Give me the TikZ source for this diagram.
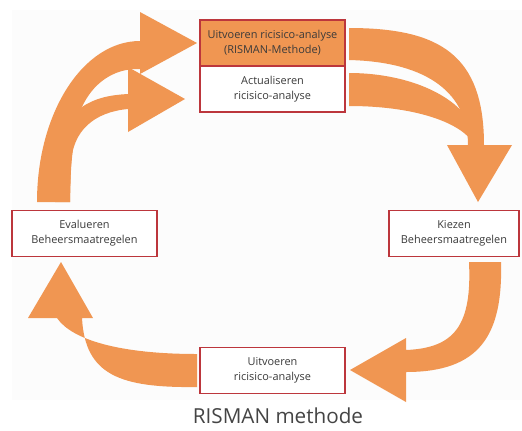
\documentclass[tikz,border=0pt]{standalone}
\usepackage{fontspec}
\setmainfont{Open Sans}
\definecolor{arrowfill}{HTML}{F09652}
\definecolor{boxline}{HTML}{BC363C}
\definecolor{panel}{HTML}{FCFCFC}
\definecolor{txt}{HTML}{3A3A3A}
\definecolor{captxt}{HTML}{444444}
\begin{document}
\begin{tikzpicture}[x=0.75pt,y=-0.75pt,
  blockarrow/.style={fill=arrowfill},
  stepbox/.style={draw=boxline, line width=1.2pt, fill=white,
    minimum width=108.75pt, minimum height=34.5pt, inner sep=0pt,
    align=center, text=txt, font=\fontsize{8.2}{11.25}\selectfont},
  captionstyle/.style={text=captxt, font=\fontsize{15.5}{18}\selectfont}]
\useasboundingbox (0,0) rectangle (522,430);
% light panel behind the cycle
\fill[panel] (12,10) rectangle (522,400);

% forked arrow: evaluation back to the analysis steps
\fill[blockarrow] (37,202) .. controls (37,113) and (83,41) .. (140,41)
  -- (140,12) -- (197,43) -- (140,74) -- (140,69)
  .. controls (112,68) and (92,85) .. (82,107)
  .. controls (75,125) and (70,160) .. (70,202) -- cycle;
\fill[blockarrow] (82,107) .. controls (95,98) and (110,95) .. (128,94)
  -- (128,67) -- (185,99) -- (128,132) -- (128,109)
  .. controls (95,112) and (72,130) .. (71,165) -- (70,202)
  -- (55,202) -- (60,140) -- cycle;

% merging arrow: analysis steps to choosing measures
\fill[blockarrow] (349,28) .. controls (440,28) and (484,55) .. (484,145)
  -- (512,145) -- (478,202) -- (447,145) -- (468,145)
  .. controls (468,95) and (430,62) .. (349,60) -- cycle;
\fill[blockarrow] (349,73) .. controls (400,73) and (445,90) .. (465,115)
  -- (470,145) -- (474,145)
  .. controls (465,125) and (420,106) .. (349,106) -- cycle;

% choosing measures to executing the analysis
\fill[blockarrow] (469,262) -- (501,262)
  .. controls (503,335) and (480,372) .. (406,372)
  -- (406,402) -- (350,370) -- (406,338) -- (406,350)
  .. controls (455,348) and (472,325) .. (469,262) -- cycle;

% executing the analysis to evaluating measures
\fill[blockarrow] (197,354) -- (197,387)
  .. controls (120,388) and (85,375) .. (82,318)
  -- (93,318) -- (61,262) -- (28,318) -- (57,318)
  .. controls (72,340) and (120,354) .. (197,354) -- cycle;

% process steps
\node[stepbox, fill=arrowfill] (risman) at (272.5,43)
  {Uitvoeren ricisico-analyse\\(RISMAN-Methode)};
\node[stepbox] (update) at (272.5,89) {Actualiseren\\ricisico-analyse};
\node[stepbox] (evaluate) at (84.5,233.5) {Evalueren\\Beheersmaatregelen};
\node[stepbox, minimum width=97.5pt] (choose) at (454,233.5)
  {Kiezen\\Beheersmaatregelen};
\node[stepbox] (execute) at (272.5,370.5) {Uitvoeren\\ricisico-analyse};

\node[captionstyle] (caption) at (278,416) {RISMAN methode};
\end{tikzpicture}
\end{document}
